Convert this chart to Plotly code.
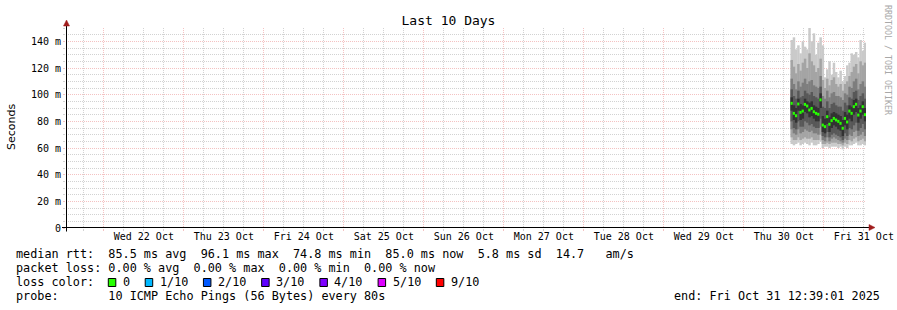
import pandas as pd
import plotly.graph_objects as go

# ---------------- data ----------------
TITLE = "Last 10 Days"
Y_TITLE = "Seconds"
RANGE_START = "2025-10-21 12:39:01"
RANGE_END = "2025-10-31 12:39:01"
DATA_START = "2025-10-30 14:00:00"
STEP_MIN = 40

day_labels = ["Wed 22 Oct", "Thu 23 Oct", "Fri 24 Oct", "Sat 25 Oct", "Sun 26 Oct",
              "Mon 27 Oct", "Tue 28 Oct", "Wed 29 Oct", "Thu 30 Oct", "Fri 31 Oct"]
day_label_times = ["2025-10-22 12:00", "2025-10-23 12:00", "2025-10-24 12:00", "2025-10-25 12:00",
                   "2025-10-26 12:00", "2025-10-27 12:00", "2025-10-28 12:00", "2025-10-29 12:00",
                   "2025-10-30 12:00", "2025-10-31 12:00"]

y_tick_vals = [0, 20, 40, 60, 80, 100, 120, 140]
y_tick_text = ["0", "20 m", "40 m", "60 m", "80 m", "100 m", "120 m", "140 m"]

# median rtt (ms) per 40-minute step
median = [93.5, 86.0, 84.2, 93.0, 86.7, 87.7, 92.7, 91.5, 88.5, 89.7,
          87.2, 86.0, 85.3, 96.1, 77.2, 76.0, 83.5, 77.8, 80.5, 82.2,
          81.0, 80.0, 78.5, 74.8, 82.2, 79.5, 87.7, 86.0, 91.0, 92.8,
          84.7, 87.7, 91.0, 85.0]

# sorted ping values (ms) per step, ping1 = fastest ... ping10 = slowest
ping10 = [141, 143, 134, 137, 131, 140, 136, 134, 150, 140, 146, 130, 139, 143, 137, 113, 119,
          125, 115, 124, 117, 113, 118, 110, 114, 122, 124, 131, 130, 132, 128, 141, 133, 139]
ping9 = [126, 121, 116, 123, 118, 124, 127, 120, 131, 125, 122, 117, 120, 127, 111, 105, 112,
         107, 111, 113, 108, 106, 108, 103, 108, 110, 114, 117, 121, 123, 116, 125, 122, 124]
ping8 = [112, 108, 104, 110, 106, 109, 112, 108, 110, 111, 107, 106, 105, 114, 99, 97, 103,
         98, 101, 102, 99, 99, 98, 96, 101, 100, 106, 105, 110, 112, 104, 108, 110, 106]
ping7 = [104, 99, 97, 103, 98, 99, 103, 101, 100, 102, 99, 98, 97, 106, 91, 90, 95,
         90, 93, 94, 92, 91, 91, 88, 94, 92, 98, 97, 102, 103, 96, 99, 101, 97]
ping6 = [98, 92, 90, 97, 93, 92, 97, 95, 94, 95, 92, 91, 90, 101, 84, 82, 88,
         83, 86, 87, 86, 85, 84, 81, 87, 85, 92, 91, 96, 97, 90, 92, 95, 90]
ping5 = [88, 81, 79, 88, 81, 82, 87, 86, 83, 84, 82, 80, 80, 90, 72, 71, 78,
         72, 75, 77, 76, 74, 73, 69, 77, 74, 82, 80, 85, 87, 79, 82, 85, 80]
ping4 = [80, 75, 74, 80, 76, 76, 80, 79, 77, 78, 76, 75, 75, 82, 69, 68, 72,
         68, 70, 71, 70, 69, 68, 66, 71, 69, 75, 74, 77, 79, 73, 75, 78, 74]
ping3 = [74, 71, 70, 74, 71, 72, 74, 73, 72, 73, 71, 71, 70, 76, 66, 65, 68,
         65, 67, 68, 67, 66, 65, 64, 67, 66, 70, 69, 72, 73, 69, 70, 72, 69]
ping2 = [68, 66, 66, 68, 66, 67, 68, 67, 67, 68, 66, 66, 66, 70, 63, 63, 64,
         63, 64, 64, 64, 63, 63, 62, 64, 63, 66, 65, 67, 68, 65, 66, 67, 65]
ping1 = [63, 62, 63, 64, 62, 63, 64, 63, 62, 64, 62, 62, 63, 65, 60, 61, 61,
         60, 61, 61, 61, 60, 61, 59, 61, 60, 62, 62, 63, 64, 62, 62, 63, 62]

# lost pings per step (of 10)
loss = [0, 0, 0, 0, 0, 0, 0, 0, 0, 0, 0, 0, 0, 0, 0, 0, 0,
        0, 0, 0, 0, 0, 0, 0, 0, 0, 0, 0, 0, 0, 0, 0, 0, 0]

loss_thresholds = [0, 1, 2, 3, 4, 5, 9]
loss_labels = ["0", "1/10", "2/10", "3/10", "4/10", "5/10", "9/10"]
loss_colors = ["#26ff00", "#00b8ff", "#0059ff", "#5e00ff", "#7e00ff", "#dd00ff", "#ff0000"]

stats_rtt = "median rtt:  85.5 ms avg  96.1 ms max  74.8 ms min  85.0 ms now  5.8 ms sd  14.7   am/s"
stats_loss = "packet loss: 0.00 % avg  0.00 % max  0.00 % min  0.00 % now"
loss_title = "loss color:"
probe_text = "probe:       10 ICMP Echo Pings (56 Bytes) every 80s"
end_text = "end: Fri Oct 31 12:39:01 2025"
watermark = "RRDTOOL / TOBI OETIKER"

# ---------------- style / layout helpers ----------------
W, H = 897, 310
PL, PT, PW, PH = 66, 28, 800, 200


def fx(px):
    return (px - PL) / PW


def fy(py):
    return (PT + PH - py) / PH


def nb(s):
    return s.replace(" ", "\u00a0")


MONO = "DejaVu Sans Mono"
SANS = "DejaVu Sans"
MGRID = "rgba(230,120,120,0.45)"
GRID = "rgba(165,165,165,0.5)"
ARROW = "#a01c1c"
SMOKE = ["#cacaca", "#a4a4a4", "#7e7e7e", "#585858", "#323232"]
STEP_MS = STEP_MIN * 60 * 1000
BAR_W = STEP_MS * 1.12
MED_HALF = 1.1
LEG_FONT = 11.8
CW = LEG_FONT * 0.602
TEXT_DX = -2.0

times = pd.date_range(DATA_START, periods=len(median), freq=f"{STEP_MIN}min")
pings = [ping1, ping2, ping3, ping4, ping5, ping6, ping7, ping8, ping9, ping10]


def loss_color(v):
    c = loss_colors[0]
    for t, col in zip(loss_thresholds, loss_colors):
        if v >= t:
            c = col
    return c


fig = go.Figure()

# smoke bands (outer -> inner)
for i in range(5):
    lo = pings[i]
    hi = pings[9 - i]
    fig.add_trace(go.Bar(
        x=times, y=[h - l for l, h in zip(lo, hi)], base=lo,
        width=BAR_W, offset=0,
        marker=dict(color=SMOKE[i], line=dict(width=0)),
        hoverinfo="skip", showlegend=False,
    ))

# median, coloured by loss
fig.add_trace(go.Bar(
    x=times, y=[2 * MED_HALF] * len(median), base=[m - MED_HALF for m in median],
    width=STEP_MS, offset=0,
    marker=dict(color=[loss_color(v) for v in loss], line=dict(width=0)),
    hoverinfo="skip", showlegend=False,
))

# invisible trace carrying the label axis
fig.add_trace(go.Scatter(x=times, y=median, xaxis="x2", mode="markers",
                         marker=dict(opacity=0), hoverinfo="skip", showlegend=False))

midnights = pd.date_range("2025-10-22", "2025-10-31", freq="D")
six_hourly = [t for t in pd.date_range("2025-10-21 18:00", "2025-10-31 12:00", freq="6h")
              if t.hour != 0]
y_minor = [v for v in range(5, 151, 5) if v % 20 != 0]

fig.update_layout(
    width=W, height=H,
    margin=dict(l=PL, r=W - PL - PW, t=PT, b=H - PT - PH, autoexpand=False),
    paper_bgcolor="white", plot_bgcolor="white",
    barmode="overlay", showlegend=False,
    title=dict(text=TITLE, x=0.5, xref="container", xanchor="center",
               y=1 - 20.7 / H, yanchor="middle",
               font=dict(family=MONO, size=13, color="black")),
    xaxis=dict(
        type="date", range=[RANGE_START, RANGE_END], fixedrange=True,
        tickmode="array", tickvals=list(midnights), ticktext=[""] * len(midnights),
        showgrid=True, gridcolor=MGRID, griddash="1px,1px", gridwidth=1,
        ticks="outside", ticklen=2, tickcolor=MGRID,
        showline=False, zeroline=False,
        minor=dict(tickmode="array", tickvals=six_hourly, showgrid=True,
                   gridcolor=GRID, griddash="1px,1px", gridwidth=1,
                   ticks="outside", ticklen=2, tickcolor=GRID),
    ),
    xaxis2=dict(
        type="date", range=[RANGE_START, RANGE_END], fixedrange=True,
        overlaying="x", anchor="y", side="bottom",
        tickmode="array", tickvals=day_label_times, ticktext=day_labels,
        showgrid=False, zeroline=False, showline=False, ticks="",
        ticklabelstandoff=1,
        tickfont=dict(family=MONO, size=10, color="black"),
    ),
    yaxis=dict(
        range=[0, 150], fixedrange=True,
        tickmode="array", tickvals=y_tick_vals, ticktext=y_tick_text,
        showgrid=True, gridcolor=MGRID, griddash="1px,1px", gridwidth=1,
        ticks="outside", ticklen=2, tickcolor=MGRID,
        showline=False, zeroline=False,
        tickfont=dict(family=MONO, size=10, color="black"),
        minor=dict(tickmode="array", tickvals=y_minor, showgrid=True,
                   gridcolor=GRID, griddash="1px,1px", gridwidth=1,
                   ticks="outside", ticklen=2, tickcolor=GRID),
    ),
)

shapes = []
# axis lines with arrows
shapes.append(dict(type="line", xref="paper", yref="paper",
                   x0=fx(62), x1=fx(870), y0=fy(227.5), y1=fy(227.5),
                   line=dict(color="black", width=1), layer="above"))
shapes.append(dict(type="line", xref="paper", yref="paper",
                   x0=fx(66.5), x1=fx(66.5), y0=fy(231.5), y1=fy(25),
                   line=dict(color="black", width=1), layer="above"))
shapes.append(dict(type="path", xref="paper", yref="paper",
                   path=f"M {fx(869)} {fy(224.5)} L {fx(875)} {fy(227.5)} L {fx(869)} {fy(230.5)} Z",
                   fillcolor=ARROW, line=dict(color=ARROW, width=0.5), layer="above"))
shapes.append(dict(type="path", xref="paper", yref="paper",
                   path=f"M {fx(63.5)} {fy(26)} L {fx(66.5)} {fy(20)} L {fx(69.5)} {fy(26)} Z",
                   fillcolor=ARROW, line=dict(color=ARROW, width=0.5), layer="above"))

annotations = []


def leg_text(text, px, py, anchor="left", size=LEG_FONT):
    annotations.append(dict(text=nb(text), xref="paper", yref="paper",
                            x=fx(px + (TEXT_DX if anchor == "left" else -TEXT_DX)), y=fy(py),
                            xanchor=anchor, yanchor="middle",
                            showarrow=False,
                            font=dict(family=MONO, size=size, color="black")))


leg_text(stats_rtt, 15.5, 254.3)
leg_text(stats_loss, 15.5, 268.3)
leg_text(loss_title, 15.5, 282.3)
leg_text(probe_text, 15.5, 296.3)
leg_text(end_text, 880.5, 296.3, anchor="right")

# loss colour legend
xb = 108.3
for lab, col in zip(loss_labels, loss_colors):
    shapes.append(dict(type="rect", xref="paper", yref="paper",
                       x0=fx(xb), x1=fx(xb + 7.5), y0=fy(286.5), y1=fy(278.5),
                       fillcolor=col, line=dict(color="black", width=1), layer="above"))
    xl = xb + 15
    leg_text(lab, xl - 0.5, 282.3)
    xb = xl + (len(lab) + 2) * CW + 0.6

# y axis title
annotations.append(dict(text=Y_TITLE, xref="paper", yref="paper", x=fx(11), y=fy(127),
                        xanchor="center", yanchor="middle", textangle=-90, showarrow=False,
                        font=dict(family=SANS, size=11, color="black")))
# watermark
annotations.append(dict(text=nb(watermark), xref="paper", yref="paper", x=fx(888), y=fy(60),
                        xanchor="center", yanchor="middle", textangle=90, showarrow=False,
                        font=dict(family=MONO, size=8.3, color="#a8a8a8")))

fig.update_layout(shapes=shapes, annotations=annotations)
fig.write_html("out.html")
